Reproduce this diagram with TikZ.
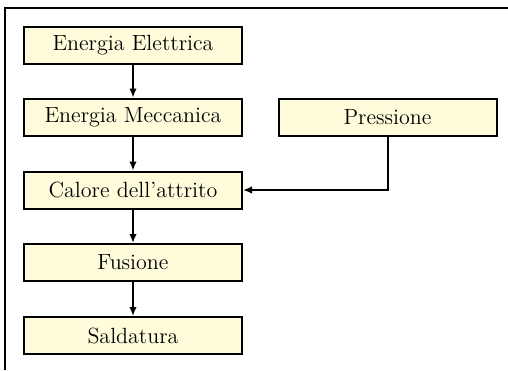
\documentclass[tikz,border=0pt]{standalone}
\usetikzlibrary{arrows.meta}
\definecolor{boxfill}{RGB}{255,252,220}
\tikzset{
  stepbox/.style={draw=black, line width=1pt, fill=boxfill, minimum width=109pt, minimum height=18.5pt, inner sep=0pt, font=\fontsize{11}{13}\selectfont},
  flow/.style={line width=1pt, -{Latex[length=4.5pt,width=3.8pt]}}
}
\begin{document}
\begin{tikzpicture}[x=0.5pt,y=-0.5pt]
\useasboundingbox (0,0) rectangle (508,370);
\draw[line width=1pt] (5,370) -- (5,8) -- (508,8);
\node[stepbox] (ee) at (133,45) {Energia Elettrica};
\node[stepbox] (em) at (133,117) {Energia Meccanica};
\node[stepbox] (ca) at (133,190) {Calore dell'attrito};
\node[stepbox] (fu) at (133,262.5) {Fusione};
\node[stepbox] (sa) at (133,335.5) {Saldatura};
\node[stepbox] (pr) at (387.5,117) {Pressione};
\draw[flow] (ee) -- (em);
\draw[flow] (em) -- (ca);
\draw[flow] (ca) -- (fu);
\draw[flow] (fu) -- (sa);
\draw[flow] (pr.south) |- (ca.east);
\end{tikzpicture}
\end{document}
